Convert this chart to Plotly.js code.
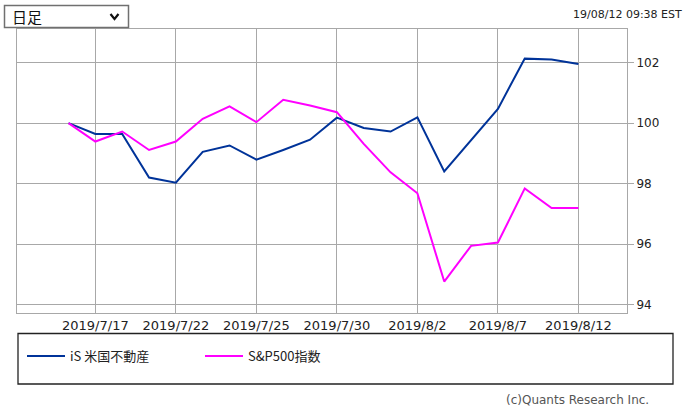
<!DOCTYPE html>
<html>
<head>
<meta charset="utf-8">
<script src="https://cdn.plot.ly/plotly-3.0.1.min.js"></script>
<style>
html,body{margin:0;padding:0;background:#fff;}
#chart{width:693px;height:413px;}
</style>
</head>
<body>
<div id="chart"></div>
<script>
// ---- data ----
const dates = ["2019/7/16","2019/7/17","2019/7/18","2019/7/19","2019/7/22","2019/7/23","2019/7/24","2019/7/25","2019/7/26","2019/7/29","2019/7/30","2019/7/31","2019/8/1","2019/8/2","2019/8/5","2019/8/6","2019/8/7","2019/8/8","2019/8/9","2019/8/12"];
const reitValues = [100.0, 99.64, 99.64, 98.20, 98.03, 99.05, 99.26, 98.79, 99.11, 99.45, 100.18, 99.84, 99.72, 100.19, 98.40, 99.44, 100.47, 102.13, 102.10, 101.95];
const spxValues  = [100.0, 99.39, 99.72, 99.11, 99.39, 100.14, 100.55, 100.03, 100.77, 100.58, 100.36, 99.31, 98.37, 97.68, 94.76, 95.94, 96.05, 97.84, 97.19, 97.19];
const seriesNames = ["iS 米国不動産", "S&P500指数"];
const tickDates = ["2019/7/17","2019/7/22","2019/7/25","2019/7/30","2019/8/2","2019/8/7","2019/8/12"];
const yTicks = [94, 96, 98, 100, 102];
const periodLabel = "日足";
const timestampLabel = "19/08/12 09:38 EST";
const creditLabel = "(c)Quants Research Inc.";

// ---- layout helpers (pixel -> paper) ----
const W = 693, H = 413;
const ML = 17, MR = 66, MT = 29, MB = 100;
const PW = W - ML - MR, PH = H - MT - MB;
const px = x => (x - ML) / PW;
const py = y => (H - MB - y) / PH;

const traces = [
  {x: dates, y: reitValues, name: seriesNames[0], type: 'scatter', mode: 'lines',
   line: {color: '#003399', width: 2}},
  {x: dates, y: spxValues, name: seriesNames[1], type: 'scatter', mode: 'lines',
   line: {color: '#ff00ff', width: 2}}
];

const chevron = `M${px(110.5)},${py(14)} L${px(114.5)},${py(19)} L${px(118.5)},${py(14)}`;

const layout = {
  width: W, height: H,
  margin: {l: ML, r: MR, t: MT, b: MB, pad: 0},
  paper_bgcolor: '#ffffff', plot_bgcolor: '#ffffff',
  font: {family: 'DejaVu Sans, sans-serif', color: '#222'},
  showlegend: true,
  hovermode: false,
  xaxis: {
    type: 'category',
    range: [-1.92, 20.81],
    tickmode: 'array', tickvals: tickDates, ticktext: tickDates,
    ticks: '', showgrid: true, gridcolor: '#a8a8a8', gridwidth: 1,
    showline: true, mirror: true, linecolor: '#a8a8a8', linewidth: 1,
    zeroline: false, fixedrange: true,
    tickfont: {size: 13, family: 'DejaVu Sans, sans-serif', color: '#222'}
  },
  yaxis: {
    side: 'right',
    range: [93.72, 103.11],
    tickmode: 'array', tickvals: yTicks,
    ticks: 'outside', ticklen: 6, tickcolor: '#a8a8a8', tickwidth: 1,
    showgrid: true, gridcolor: '#a8a8a8', gridwidth: 1,
    showline: true, mirror: true, linecolor: '#a8a8a8', linewidth: 1,
    zeroline: false, fixedrange: true,
    tickfont: {size: 12, family: 'DejaVu Sans, sans-serif', color: '#222'}
  },
  legend: {
    orientation: 'h',
    x: px(22), xanchor: 'left',
    y: py(341), yanchor: 'top',
    bgcolor: 'rgba(0,0,0,0)', borderwidth: 0,
    itemwidth: 38,
    entrywidth: 125, entrywidthmode: 'pixels',
    font: {size: 13, family: '"Noto Sans CJK JP", sans-serif', color: '#222'}
  },
  shapes: [
    {type: 'rect', xref: 'paper', yref: 'paper', x0: px(4.5), x1: px(128.5), y0: py(5.5), y1: py(27.5),
     line: {color: '#707070', width: 1.5}, fillcolor: '#ffffff', layer: 'above'},
    {type: 'path', xref: 'paper', yref: 'paper', path: chevron,
     line: {color: '#111', width: 2.2}},
    {type: 'rect', xref: 'paper', yref: 'paper', x0: px(18), x1: px(673), y0: py(333.5), y1: py(384),
     line: {color: '#222', width: 1.3}, fillcolor: 'rgba(0,0,0,0)'}
  ],
  annotations: [
    {text: periodLabel, xref: 'paper', yref: 'paper', x: px(10), y: py(16.5), xanchor: 'left', yanchor: 'middle',
     showarrow: false, font: {size: 15, family: '"Noto Sans CJK JP", sans-serif', color: '#111'}},
    {text: timestampLabel, xref: 'paper', yref: 'paper', x: px(684), y: py(14.5), xanchor: 'right', yanchor: 'middle',
     showarrow: false, font: {size: 11, family: 'DejaVu Sans, sans-serif', color: '#222'}},
    {text: creditLabel, xref: 'paper', yref: 'paper', x: px(651), y: py(400), xanchor: 'right', yanchor: 'middle',
     showarrow: false, font: {size: 12, family: 'DejaVu Sans, sans-serif', color: '#555'}}
  ]
};

Plotly.newPlot('chart', traces, layout, {displayModeBar: false, staticPlot: true});
</script>
</body>
</html>
